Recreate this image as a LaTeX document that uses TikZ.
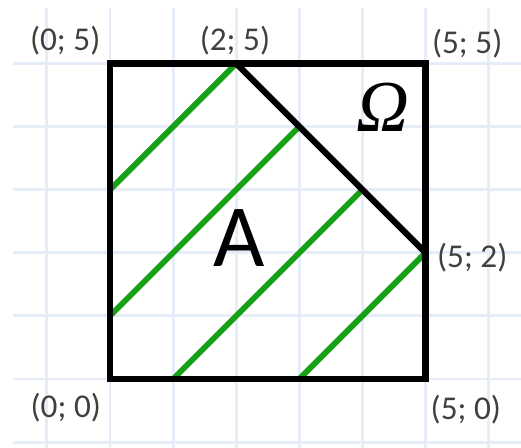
\documentclass[tikz,border=0pt]{standalone}
\usepackage{fontspec}
\setmainfont{Carlito}
\newfontfamily\omegafont{Liberation Serif}
\definecolor{gridblue}{RGB}{230,236,248}
\definecolor{hatchgreen}{RGB}{22,160,22}
\begin{document}
\begin{tikzpicture}[x=1cm,y=1cm,
  gridline/.style={draw=gridblue,line width=1.3pt},
  border/.style={draw=black,line width=2.8pt,line join=miter},
  hatch/.style={draw=hatchgreen,line width=2.6pt},
  coordlabel/.style={font=\fontsize{15}{18}\selectfont,inner sep=0pt,text=black!75}]
\useasboundingbox (-1.743,-1.093) rectangle (6.513,6.006);
% grid
\foreach \gx in {-1,...,6} \draw[gridline] (\gx,-1.093) -- (\gx,5.88);
\foreach \gy in {-1,...,5} \draw[gridline] (-1.54,\gy) -- (6.513,\gy);
% vertices
\coordinate (O) at (0,0);
\coordinate (B) at (0,5);
\coordinate (C) at (2,5);
\coordinate (D) at (5,5);
\coordinate (E) at (5,2);
\coordinate (F) at (5,0);
% hatch endpoints
\coordinate (h1a) at (0,3);
\coordinate (h2a) at (0,1);
\coordinate (h2b) at (3,4);
\coordinate (h3a) at (1,0);
\coordinate (h3b) at (4,3);
\coordinate (h4a) at (3,0);
% hatching
\draw[hatch] (h1a) -- (C);
\draw[hatch] (h2a) -- (h2b);
\draw[hatch] (h3a) -- (h3b);
\draw[hatch] (h4a) -- (E);
% square and cut
\draw[border] (O) -- (B) -- (D) -- (F) -- cycle;
\draw[border] (C) -- (E);
% labels
\node[coordlabel] (lB) at (-0.71,5.36) {(0; 5)};
\node[coordlabel] (lC) at (1.98,5.36) {(2; 5)};
\node[coordlabel] (lD) at (5.66,5.31) {(5; 5)};
\node[coordlabel] (lE) at (5.74,1.93) {(5; 2)};
\node[coordlabel] (lO) at (-0.70,-0.45) {(0; 0)};
\node[coordlabel] (lF) at (5.64,-0.49) {(5; 0)};
\node[font=\fontsize{40}{44}\selectfont,inner sep=0pt] (A) at (2.04,2.24) {A};
\node[font=\omegafont\itshape\fontsize{33}{38}\selectfont,inner sep=0pt] (Om) at (4.33,4.3) {Ω};
\end{tikzpicture}
\end{document}
